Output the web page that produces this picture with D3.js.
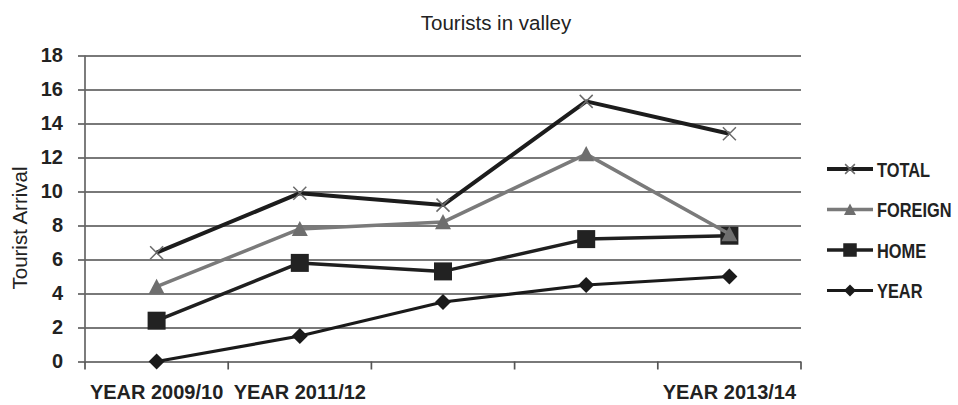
<!DOCTYPE html>
<html>
<head>
<meta charset="utf-8">
<script src="https://cdn.jsdelivr.net/npm/d3@7"></script>
<style>
  html, body { margin: 0; padding: 0; background: #fff; }
  svg { display: block; }
</style>
</head>
<body>
<svg id="chart" width="958" height="405"></svg>
<script>
// Tourist arrivals per year, by visitor group
const categoryLabels = ["YEAR 2009/10", "YEAR 2011/12", "", "", "YEAR 2013/14"];
const totalValues   = [6.4, 9.9, 9.2, 15.3, 13.4];
const foreignValues = [4.4, 7.8, 8.2, 12.2, 7.5];
const homeValues    = [2.4, 5.8, 5.3, 7.2, 7.4];
const yearValues    = [0, 1.5, 3.5, 4.5, 5.0];
const yTicks = [0, 2, 4, 6, 8, 10, 12, 14, 16, 18];

const series = [
  { name: "TOTAL",   values: totalValues,   line: "#1c1c1c", width: 4,   marker: "x",        fill: "#6a6a6a" },
  { name: "FOREIGN", values: foreignValues, line: "#7a7a7a", width: 3.5, marker: "triangle", fill: "#6e6e6e" },
  { name: "HOME",    values: homeValues,    line: "#1f1f1f", width: 3.5, marker: "square",   fill: "#222" },
  { name: "YEAR",    values: yearValues,    line: "#1a1a1a", width: 3.2, marker: "diamond",  fill: "#1a1a1a" }
];

const svg = d3.select("#chart");
const plot = { left: 85, right: 801, top: 55.5, bottom: 361.5 };

const x = d3.scaleBand().domain(d3.range(categoryLabels.length)).range([plot.left, plot.right]);
const y = d3.scaleLinear().domain([0, 18]).range([plot.bottom, plot.top]);

// Title
svg.append("text")
  .attr("x", 496).attr("y", 30)
  .attr("text-anchor", "middle")
  .attr("font-family", "'Liberation Sans', Arial, sans-serif")
  .attr("font-size", 20.5).attr("fill", "#222")
  .text("Tourists in valley");

// Y axis title
svg.append("text")
  .attr("transform", "translate(27,228) rotate(-90)")
  .attr("text-anchor", "middle")
  .attr("font-family", "'Liberation Sans', Arial, sans-serif")
  .attr("font-size", 20.5).attr("fill", "#222")
  .text("Tourist Arrival");

// Horizontal gridlines with a short tick to the left of the axis
const yAxis = d3.axisLeft(y).tickValues(yTicks)
  .tickSize(-(plot.right - plot.left) - 7)
  .tickPadding(15)
  .tickFormat(d3.format("d"));
const gy = svg.append("g").attr("transform", `translate(${plot.left - 7},0)`).call(yAxis);
gy.select(".domain").remove();
gy.selectAll(".tick line").attr("stroke", "#4d4d4d").attr("stroke-width", 1.7);
gy.selectAll(".tick text")
  .attr("font-family", "'Liberation Sans', Arial, sans-serif")
  .attr("font-weight", "bold").attr("font-size", 20).attr("fill", "#222");

// Vertical axis line
svg.append("line")
  .attr("x1", plot.left).attr("x2", plot.left)
  .attr("y1", plot.top).attr("y2", plot.bottom)
  .attr("stroke", "#666").attr("stroke-width", 1.7);

// Category axis: tick marks between categories, labels at category centres
const boundaries = x.domain().map(d => x(d)).concat([plot.right]);
svg.append("g").selectAll("line").data(boundaries).join("line")
  .attr("x1", d => d).attr("x2", d => d)
  .attr("y1", plot.bottom).attr("y2", plot.bottom + 8)
  .attr("stroke", "#555").attr("stroke-width", 1.7);

svg.append("g").selectAll("text").data(x.domain()).join("text")
  .attr("x", d => x(d) + x.bandwidth() / 2)
  .attr("y", 399)
  .attr("text-anchor", "middle")
  .attr("font-family", "'Liberation Sans', Arial, sans-serif")
  .attr("font-weight", "bold").attr("font-size", 20).attr("fill", "#222")
  .text(d => categoryLabels[d]);

// Marker shapes
function drawMarker(g, type, cx, cy, fill, scale = 1) {
  if (type === "x") {
    const r = 6.5 * scale;
    g.append("path")
      .attr("d", `M${cx - r},${cy - r}L${cx + r},${cy + r}M${cx - r},${cy + r}L${cx + r},${cy - r}`)
      .attr("stroke", fill).attr("stroke-width", 1.5).attr("fill", "none");
  } else if (type === "triangle") {
    const s = 8 * scale;
    g.append("path")
      .attr("d", `M${cx},${cy - s}L${cx + s},${cy + s * 0.9}L${cx - s},${cy + s * 0.9}Z`)
      .attr("fill", fill);
  } else if (type === "square") {
    const s = 9 * scale;
    g.append("rect")
      .attr("x", cx - s).attr("y", cy - s)
      .attr("width", 2 * s).attr("height", 2 * s)
      .attr("fill", fill);
  } else if (type === "diamond") {
    const s = 8 * scale;
    g.append("path")
      .attr("d", `M${cx},${cy - s}L${cx + s},${cy}L${cx},${cy + s}L${cx - s},${cy}Z`)
      .attr("fill", fill);
  }
}

// Series lines and markers (TOTAL drawn last so it sits on top)
const line = d3.line()
  .x((d, i) => x(i) + x.bandwidth() / 2)
  .y(d => y(d));

series.slice().reverse().forEach(s => {
  const g = svg.append("g");
  g.append("path")
    .attr("d", line(s.values))
    .attr("fill", "none")
    .attr("stroke", s.line)
    .attr("stroke-width", s.width)
    .attr("stroke-linejoin", "round");
  s.values.forEach((v, i) => {
    drawMarker(g, s.marker, x(i) + x.bandwidth() / 2, y(v), s.fill);
  });
});

// Legend (bold labels, horizontally condensed)
const legend = svg.append("g");
series.forEach((s, i) => {
  const cy = 169 + i * 40.5;
  const g = legend.append("g");
  g.append("line")
    .attr("x1", 827).attr("x2", 873)
    .attr("y1", cy).attr("y2", cy)
    .attr("stroke", s.line).attr("stroke-width", s.width);
  drawMarker(g, s.marker, 850, cy, s.fill, 0.75);
  g.append("text")
    .attr("transform", `translate(877,${cy + 7.5}) scale(0.78,1)`)
    .attr("font-family", "'Liberation Sans', Arial, sans-serif")
    .attr("font-weight", "bold").attr("font-size", 21).attr("fill", "#222")
    .text(s.name);
});
</script>
</body>
</html>
